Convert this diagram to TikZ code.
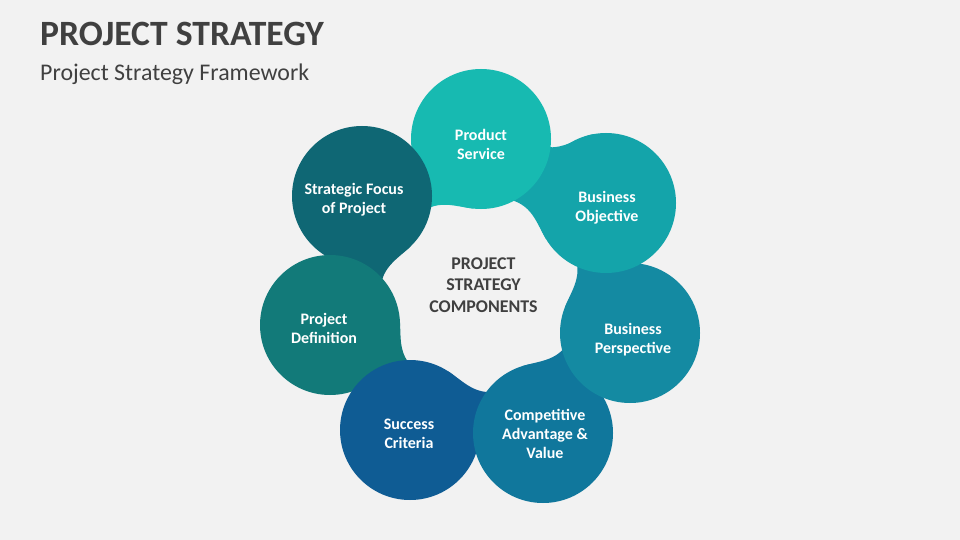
\documentclass[tikz,border=0pt]{standalone}
\usepackage{fontspec}
\setmainfont{Carlito}
\usetikzlibrary{calc}

\definecolor{bgGray}{HTML}{F2F2F2}
\definecolor{txtGray}{HTML}{404040}
\definecolor{cProduct}{HTML}{17BAB1}
\definecolor{cObjective}{HTML}{14A4AA}
\definecolor{cPerspective}{HTML}{148AA2}
\definecolor{cAdvantage}{HTML}{10779C}
\definecolor{cSuccess}{HTML}{0F5C94}
\definecolor{cDefinition}{HTML}{127A79}
\definecolor{cFocus}{HTML}{0F6774}

\begin{document}
\begin{tikzpicture}[x=1pt,y=1pt,
		bubble/.style={circle,minimum size=140pt,inner sep=0pt,fill=#1},
		bubtext/.style={text=white,align=center,font=\fontsize{16}{19}\selectfont\bfseries},
		hubtext/.style={text=txtGray,align=center,font=\fontsize{17.9}{21.3}\selectfont\bfseries}]
	% page and heading
	\fill[bgGray] (0,0) rectangle (960,-540);
	\useasboundingbox (0,0) rectangle (960,-540);
	\node[anchor=base west,inner sep=0pt,text=txtGray,font=\fontsize{35.6}{40}\selectfont\bfseries] (title) at (40,-46) {PROJECT STRATEGY};
	\node[anchor=base west,inner sep=0pt,text=txtGray,font=\fontsize{23.9}{28}\selectfont] (subtitle) at (40,-81) {Project Strategy Framework};

	% centres of the seven bubbles
	\coordinate (ps) at (481,-139);
	\coordinate (sf) at (362,-196);
	\coordinate (pd) at (330,-325);
	\coordinate (sc) at (410,-430);
	\coordinate (ca) at (543,-433);
	\coordinate (bp) at (630,-333);
	\coordinate (bo) at (606,-203);

	% tails: every bubble runs on under the next one
	\foreach \a/\b/\c in {ps/sf/cProduct, sf/pd/cFocus, pd/sc/cDefinition, sc/ca/cSuccess,
			ca/bp/cAdvantage, bp/bo/cPerspective, bo/ps/cObjective}
		\fill[\c] let \p1=($(\b)-(\a)$), \n1={atan2(\y1,\x1)} in
			(\a) -- ($(\a)+(\n1+58:70)$)
			.. controls ($(\a)+(\n1+58:70)+(\n1-32:22)$) and ($(\a)+(\n1:68)+(\n1+90:31)$)
			.. ($(\a)+(\n1:100)+(\n1+90:45)$) -- (\b) -- cycle;
	% outer side of the gap between the last two
	\fill[cObjective] let \p1=($(ps)-(bo)$), \n1={atan2(\y1,\x1)} in
		(bo) -- ($(bo)+(\n1-52:70)$)
		.. controls ($(bo)+(\n1-52:70)+(\n1+38:18)$) and ($(bo)+(\n1:66)+(\n1-90:17)$)
		.. ($(bo)+(\n1:95)+(\n1-90:22)$) -- (ps) -- cycle;

	% bubbles
	\node[bubble=cProduct] (psc) at (ps) {};
	\node[bubble=cFocus] (sfc) at (sf) {};
	\node[bubble=cDefinition] (pdc) at (pd) {};
	\node[bubble=cSuccess] (scc) at (sc) {};
	\node[bubble=cAdvantage] (cac) at (ca) {};
	\node[bubble=cPerspective] (bpc) at (bp) {};
	\node[bubble=cObjective] (boc) at (bo) {};

	% labels
	\node[bubtext] (pst) at (481,-144) {Product\\Service};
	\node[bubtext] (sft) at (354,-200) {Strategic Focus\\of Project};
	\node[bubtext] (pdt) at (324,-328) {Project\\Definition};
	\node[bubtext] (sct) at (409,-433.5) {Success\\Criteria};
	\node[bubtext] (cat) at (545,-433.5) {Competitive\\Advantage \&\\Value};
	\node[bubtext] (bpt) at (633,-340) {Business\\Perspective};
	\node[bubtext] (bot) at (607,-208) {Business\\Objective};
	\node[hubtext] (hub) at (483.5,-285) {PROJECT\\STRATEGY\\COMPONENTS};
\end{tikzpicture}
\end{document}
